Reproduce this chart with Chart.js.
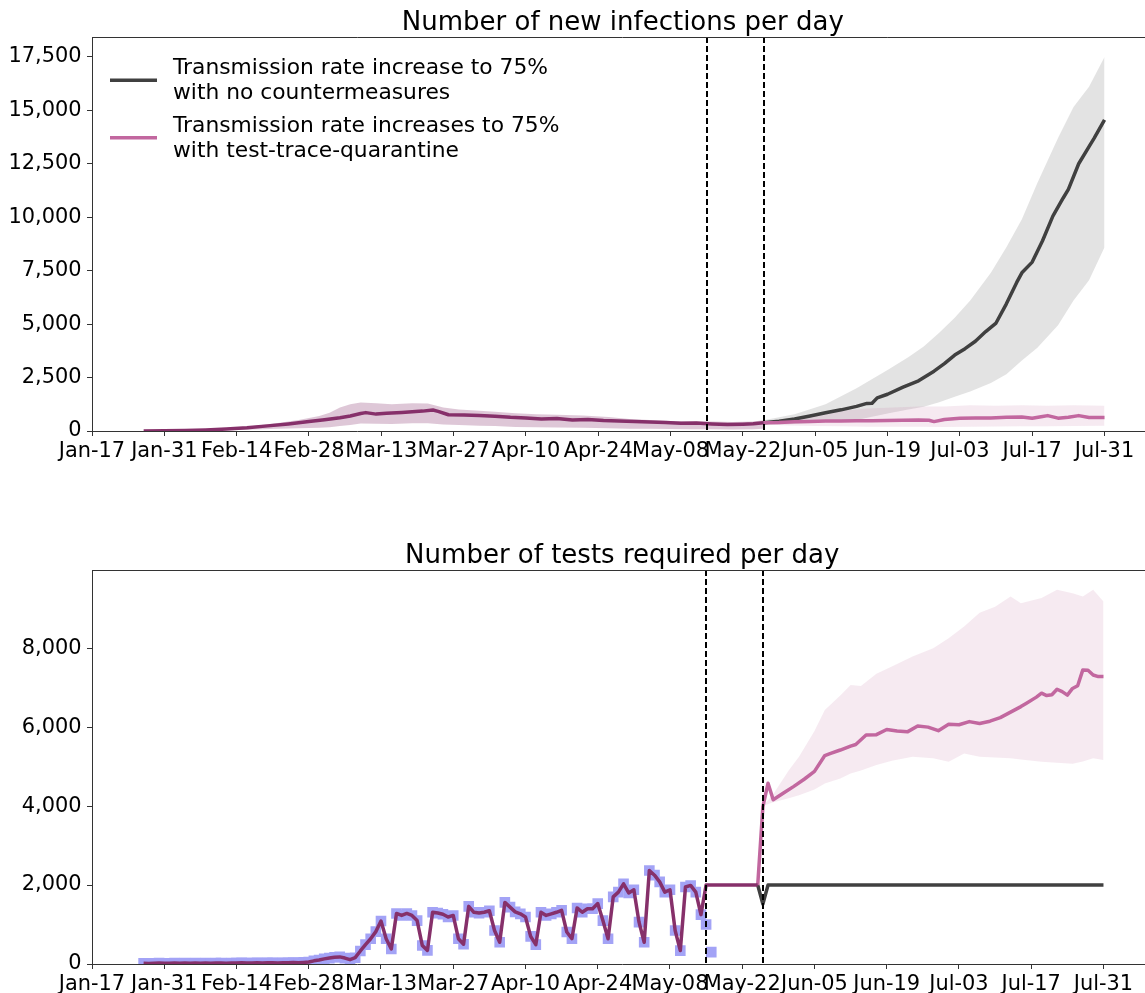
<!DOCTYPE html>
<html>
<head>
<meta charset="utf-8">
<script src="https://cdn.jsdelivr.net/npm/chart.js@4.4.1/dist/chart.umd.min.js"></script>
<style>
  html, body { margin: 0; padding: 0; background: #fff; overflow: hidden; width: 1145px; height: 993px; }
  canvas { position: absolute; left: 0; display: block; }
  #infChart { top: 0; }
  #testChart { top: 533px; }
</style>
</head>
<body>
<canvas id="infChart" width="1160" height="533"></canvas>
<canvas id="testChart" width="1160" height="460"></canvas>
<script>
// ---- x axis: days counted from Jan-17 ----
const tickLabels = ['Jan-17', 'Jan-31', 'Feb-14', 'Feb-28', 'Mar-13', 'Mar-27', 'Apr-10', 'Apr-24',
                    'May-08', 'May-22', 'Jun-05', 'Jun-19', 'Jul-03', 'Jul-17', 'Jul-31'];
const tickDays = [0, 14, 28, 42, 56, 70, 84, 98, 112, 126, 140, 154, 168, 182, 196];
const interventionDays = [119, 130];   // May-15 and May-26

// ---- new infections per day ----
const histDays = [10,14,18,22,26,30,34,38,42,45,48,50,52,53,55,57,60,62,64,66,67,69,72,75,78,81,84,87,90,93,96,99,102,105,108,111,114,117,120,123,126,128,130];
const histInf  = [0,10,25,50,90,150,240,330,440,530,620,700,820,860,790,830,870,900,930,980,920,760,750,720,690,640,610,560,590,520,540,490,470,450,420,400,360,370,330,300,320,340,390];
const histBandDays = [10,20,30,36,40,44,46,48,50,52,55,58,62,65,68,71,75,78,82,86,90,95,100,104,108,112,116,120,124,128,130];
const histBandHi   = [0,40,200,380,520,700,850,1100,1250,1330,1300,1250,1300,1290,1100,1010,950,900,830,780,760,720,650,560,520,470,450,440,420,450,500];
const histBandLo   = [0,5,60,100,130,150,170,230,280,350,340,330,360,360,300,280,250,230,190,170,160,150,130,110,100,90,80,80,70,80,100];

const nocDays = [130,133,136,139,142,145,148,150,151,152,154,157,160,163,165,167,169,171,173,175,177,179,180,182,184,186,188,189,191,193,194,196];
const nocInf  = [390,460,560,700,850,990,1150,1290,1300,1550,1720,2050,2350,2800,3150,3550,3850,4200,4650,5050,5950,6950,7400,7900,8900,10050,10900,11300,12500,13300,13700,14550];
const nocBandDays = [130,136,142,148,154,158,161,164,167,170,174,177,180,183,187,190,193,196];
const nocBandHi   = [500,780,1250,2000,2850,3450,3950,4600,5300,6100,7400,8600,9900,11600,13700,15150,16100,17500];
const nocBandLo   = [280,330,420,520,820,1000,1140,1350,1600,1850,2250,2650,3300,3900,4950,6100,7050,8600];

const ttqDays = [130,133,136,139,142,145,148,151,154,157,160,162,163,165,168,171,174,177,180,182,184,185,187,189,191,193,196];
const ttqInf  = [390,400,430,450,470,470,480,480,490,500,520,500,440,540,600,610,610,640,650,600,680,720,600,640,720,630,630];
const ttqBandDays = [130,135,140,145,150,155,160,165,170,175,180,185,190,196];
const ttqBandHi   = [450,600,800,950,1050,1100,1150,1150,1200,1180,1200,1180,1200,1180];
const ttqBandLo   = [300,260,230,220,200,200,200,190,200,210,220,220,230,240];

// ---- tests per day ----
const obsTestStartDay = 10;   // Jan-27
const obsTests = [
  20,15,20,25,20,20,25,20,25,20, 25,20,25,20,25,25,20,25,25,30, 25,25,30,25,30,30,25,30,30,35, 30,40,50,
  80,100,130,150,170,180,150,110,160,330,490,640,820,1090,640,380,
  1280,1230,1280,1230,1100,470,345,
  1310,1290,1260,1190,1230,640,500,
  1460,1310,1290,1310,1350,850,550,
  1560,1440,1320,1270,1190,700,490,
  1310,1230,1270,1310,1360,810,640,
  1420,1310,1400,1400,1530,1100,640,
  1700,1820,2030,1800,1880,1060,550,
  2370,2250,2080,1820,1880,850,340,
  1950,1990,1820,1250,1000,300
];
const histTestLastObsDay = 118;
const capacityDays = [119, 129];
const capacityTests = [2000, 2000];

const nocTestDays = [129, 130, 131, 196];
const nocTests    = [2000, 1520, 2000, 2000];

const ttqTestDays = [129,130,131,132,134,136,138,140,142,143,145,147,148,150,152,154,156,158,160,162,164,166,168,170,172,174,176,178,180,181,183,184,185,186,187,188,189,190,191,192,193,194,195,196];
const ttqTests    = [2000,3980,4580,4160,4330,4500,4680,4880,5280,5330,5420,5520,5560,5800,5810,5940,5900,5880,6030,6000,5910,6070,6060,6140,6090,6150,6240,6380,6520,6600,6760,6860,6800,6820,6960,6900,6810,6980,7050,7450,7440,7320,7280,7280];
const ttqTestBandDays = [130,132,135,137,140,142,145,147,149,152,155,159,163,166,169,172,175,178,180,184,187,190,192,194,196];
const ttqTestBandHi   = [4000,4300,4900,5250,5900,6435,6800,7070,7040,7350,7535,7790,8000,8250,8550,8900,9050,9310,9140,9270,9480,9390,9310,9480,9180];
const ttqTestBandLo   = [4000,4100,4200,4275,4420,4570,4700,4825,4900,5040,5150,5250,5210,5120,5330,5250,5230,5210,5180,5120,5100,5070,5130,5210,5165];

const infTicks  = [0, 2500, 5000, 7500, 10000, 12500, 15000, 17500];
const testTicks = [0, 2000, 4000, 6000, 8000];

const seriesNames = {
  noc: ['Transmission rate increase to 75%', 'with no countermeasures'],
  ttq: ['Transmission rate increases to 75%', 'with test-trace-quarantine']
};

// ---- styling ----
const FONT = '"DejaVu Sans", "Liberation Sans", sans-serif';
const COL = {
  noc: '#404040', ttq: '#c2679f', hist: '#86306a', obs: '#a3a3f6',
  nocBand: 'rgba(150,150,150,0.27)', ttqBand: 'rgba(194,103,159,0.14)', histBand: 'rgba(134,48,106,0.27)'
};
const X_MIN = 0, X_MAX = 205.5;
const AREA_LEFT = 92, AREA_TOP = 37, AREA_BOTTOM = 431, CANVAS_W = 1160, AREA_RIGHT = 1153.6;

const pts = (days, vals) => days.map((d, i) => ({ x: d, y: vals[i] }));

function lineSet(label, data, color, order) {
  return { label, data, borderColor: color, borderWidth: 3.5, pointRadius: 0, tension: 0,
           fill: false, order, borderJoinStyle: 'round' };
}
function bandPair(days, hi, lo, color, order) {
  return [
    { label: '', data: pts(days, hi), borderWidth: 0, borderColor: 'rgba(0,0,0,0)', pointRadius: 0,
      tension: 0, fill: '+1', backgroundColor: color, order },
    { label: '', data: pts(days, lo), borderWidth: 0, borderColor: 'rgba(0,0,0,0)', pointRadius: 0,
      tension: 0, fill: false, order }
  ];
}

function scalesFor(yMax, yTicks, canvasH) {
  const tickFont = { family: FONT, size: 20.9 };
  return {
    x: {
      type: 'linear', min: X_MIN, max: X_MAX,
      border: { display: true, color: '#333', width: 1 },
      grid: { drawOnChartArea: false, drawTicks: true, tickLength: 5, color: '#333', lineWidth: 1 },
      ticks: { autoSkip: false, maxRotation: 0, minRotation: 0, padding: 3.5, color: '#000', font: tickFont,
               callback: (v, i) => tickLabels[i] },
      afterBuildTicks: s => { s.ticks = tickDays.map(v => ({ value: v })); },
      afterFit: s => { s.height = canvasH - AREA_BOTTOM; }
    },
    y: {
      type: 'linear', min: 0, max: yMax,
      border: { display: true, color: '#333', width: 1 },
      grid: { drawOnChartArea: false, drawTicks: true, tickLength: 5, color: '#333', lineWidth: 1 },
      ticks: { padding: 5.5, color: '#000', font: tickFont, callback: v => v.toLocaleString('en-US') },
      afterBuildTicks: s => { s.ticks = yTicks.map(v => ({ value: v })); },
      afterFit: s => { s.width = AREA_LEFT; }
    }
  };
}

function panelDecor(title, legendItems) {
  return {
    id: 'panelDecor',
    afterDatasetsDraw(chart) {
      const { ctx, chartArea: a, scales } = chart;
      ctx.save();
      // intervention markers
      ctx.strokeStyle = '#000';
      ctx.lineWidth = 2;
      ctx.setLineDash([6, 3]);
      interventionDays.forEach(d => {
        const x = Math.round(scales.x.getPixelForValue(d));
        ctx.beginPath(); ctx.moveTo(x, a.top); ctx.lineTo(x, a.bottom); ctx.stroke();
      });
      ctx.setLineDash([]);
      // top and right spines
      ctx.strokeStyle = '#333'; ctx.lineWidth = 1;
      ctx.beginPath();
      ctx.moveTo(a.left, a.top + 0.5); ctx.lineTo(a.right - 0.5, a.top + 0.5); ctx.lineTo(a.right - 0.5, a.bottom);
      ctx.stroke();
      // title
      ctx.fillStyle = '#000';
      ctx.font = '26px ' + FONT;
      ctx.textAlign = 'center';
      ctx.textBaseline = 'alphabetic';
      ctx.fillText(title, (a.left + a.right) / 2, a.top - 7);
      // legend
      if (legendItems) {
        ctx.font = '21.8px ' + FONT;
        ctx.textAlign = 'left';
        legendItems.forEach(item => {
          const y = a.top + item.dy;
          ctx.strokeStyle = item.color; ctx.lineWidth = 3.5;
          ctx.beginPath(); ctx.moveTo(a.left + 18, y); ctx.lineTo(a.left + 65, y); ctx.stroke();
          ctx.fillStyle = '#000';
          item.lines.forEach((t, k) => ctx.fillText(t, a.left + 81, y - 6 + k * 25));
        });
      }
      ctx.restore();
    }
  };
}

const baseOpts = (yMax, yTicks, canvasH) => ({
  responsive: false, animation: false, devicePixelRatio: 1,
  layout: { padding: { left: 0, right: CANVAS_W - AREA_RIGHT, top: AREA_TOP, bottom: 0 } },
  plugins: { legend: { display: false }, title: { display: false }, tooltip: { enabled: false } },
  scales: scalesFor(yMax, yTicks, canvasH)
});

// ---- panel 1: new infections ----
new Chart(document.getElementById('infChart'), {
  type: 'line',
  data: {
    datasets: [
      lineSet('fitted', pts(histDays, histInf), COL.hist, 1),
      lineSet(seriesNames.noc.join(' '), pts(nocDays, nocInf), COL.noc, 2),
      lineSet(seriesNames.ttq.join(' '), pts(ttqDays, ttqInf), COL.ttq, 1),
      ...bandPair(nocBandDays, nocBandHi, nocBandLo, COL.nocBand, 12),
      ...bandPair(ttqBandDays, ttqBandHi, ttqBandLo, COL.ttqBand, 11),
      ...bandPair(histBandDays, histBandHi, histBandLo, COL.histBand, 10)
    ]
  },
  options: baseOpts(18430, infTicks, 533),
  plugins: [panelDecor('Number of new infections per day', [
    { color: COL.noc, lines: seriesNames.noc, dy: 43.3 },
    { color: COL.ttq, lines: seriesNames.ttq, dy: 100.7 }
  ])]
});

// ---- panel 2: tests required ----
const obsTestDays = obsTests.map((_, i) => obsTestStartDay + i);
const histTestIdx = obsTestDays.filter(d => d <= histTestLastObsDay).length;
const histTestPts = pts(obsTestDays.slice(0, histTestIdx), obsTests.slice(0, histTestIdx))
  .concat(pts(capacityDays, capacityTests));

new Chart(document.getElementById('testChart'), {
  type: 'line',
  data: {
    datasets: [
      lineSet('fitted', histTestPts, COL.hist, 1),
      lineSet(seriesNames.ttq.join(' '), pts(ttqTestDays, ttqTests), COL.ttq, 1),
      lineSet(seriesNames.noc.join(' '), pts(nocTestDays, nocTests), COL.noc, 2),
      { label: 'reported tests', data: pts(obsTestDays, obsTests), showLine: false, pointStyle: 'rect',
        pointRadius: 7.5, pointBorderWidth: 0, pointBackgroundColor: COL.obs, borderColor: COL.obs, order: 5 },
      ...bandPair(ttqTestBandDays, ttqTestBandHi, ttqTestBandLo, COL.ttqBand, 11)
    ]
  },
  options: baseOpts(9980, testTicks, 460),
  plugins: [panelDecor('Number of tests required per day', null)]
});
</script>
</body>
</html>
